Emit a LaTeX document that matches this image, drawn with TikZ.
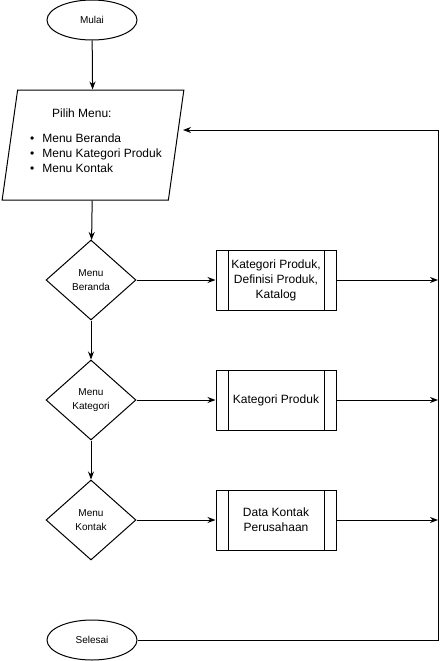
\documentclass[tikz,border=0pt]{standalone}
\usepackage{fontspec}
\setmainfont{Liberation Sans}
\usetikzlibrary{shapes.geometric,arrows.meta}

\tikzset{
  terminal/.style={draw, ellipse, minimum width=67.5pt, minimum height=30pt, inner sep=0pt, font=\fontsize{7.5}{9}\selectfont},
  menuinput/.style={draw, trapezium, trapezium left angle=79, trapezium right angle=101, trapezium stretches=true, minimum width=136.5pt, minimum height=82.5pt, inner sep=0pt, align=left, font=\fontsize{9}{11.25}\selectfont},
  decision/.style={draw, diamond, minimum width=67.5pt, minimum height=60pt, inner sep=0pt, align=center, font=\fontsize{7.5}{10.5}\selectfont},
  subproc/.style={draw, rectangle, minimum width=90pt, minimum height=45pt, inner sep=0pt, align=center, font=\fontsize{9}{11.25}\selectfont,
    path picture={
      \draw ([xshift=9pt]path picture bounding box.north west) -- ([xshift=9pt]path picture bounding box.south west);
      \draw ([xshift=-9pt]path picture bounding box.north east) -- ([xshift=-9pt]path picture bounding box.south east);
    }},
  flow/.style={-{Stealth[length=6pt, width=4.5pt]}}
}

\begin{document}
\begin{tikzpicture}[x=0.75pt, y=-0.75pt, line width=0.75pt]
\useasboundingbox (0,0) rectangle (446,661);

\path (92, 20) node[terminal] (mulai) {Mulai};

\path (93, 145) node[menuinput] (pilih) {\hspace*{21pt}Pilih Menu:\\[7.5pt]
\hspace*{4.5pt}\textbullet\hspace{6pt}Menu Beranda\\
\hspace*{4.5pt}\textbullet\hspace{6pt}Menu Kategori Produk\\
\hspace*{4.5pt}\textbullet\hspace{6pt}Menu Kontak\\[-4.5pt]\mbox{}};

\path (91, 280) node[decision] (beranda) {Menu\\Beranda};
\path (91, 400) node[decision] (kategori) {Menu\\Kategori};
\path (91, 520) node[decision] (kontak) {Menu\\Kontak};

\path (276, 280) node[subproc] (isiberanda) {Kategori Produk,\\Definisi Produk,\\Katalog};
\path (276, 400) node[subproc] (isikategori) {Kategori Produk};
\path (276, 520) node[subproc] (isikontak) {Data Kontak\\Perusahaan};

\path (92, 640) node[terminal] (selesai) {Selesai};

% jalur balik ke menu
\coordinate (r1) at (438, 280);
\coordinate (r2) at (438, 400);
\coordinate (r3) at (438, 520);
\coordinate (rb) at (438, 640);
\coordinate (rt) at (438, 130);
\coordinate (back) at (183, 130);

\draw[flow] (mulai) -- (pilih);
\draw[flow] (pilih) -- (beranda);
\draw[flow] (beranda) -- (kategori);
\draw[flow] (kategori) -- (kontak);

\draw[flow] (beranda) -- (isiberanda);
\draw[flow] (kategori) -- (isikategori);
\draw[flow] (kontak) -- (isikontak);

\draw[flow] (isiberanda) -- (r1);
\draw[flow] (isikategori) -- (r2);
\draw[flow] (isikontak) -- (r3);

\draw[flow] (selesai) -- (rb) -- (rt) -- (back);
\end{tikzpicture}
\end{document}
